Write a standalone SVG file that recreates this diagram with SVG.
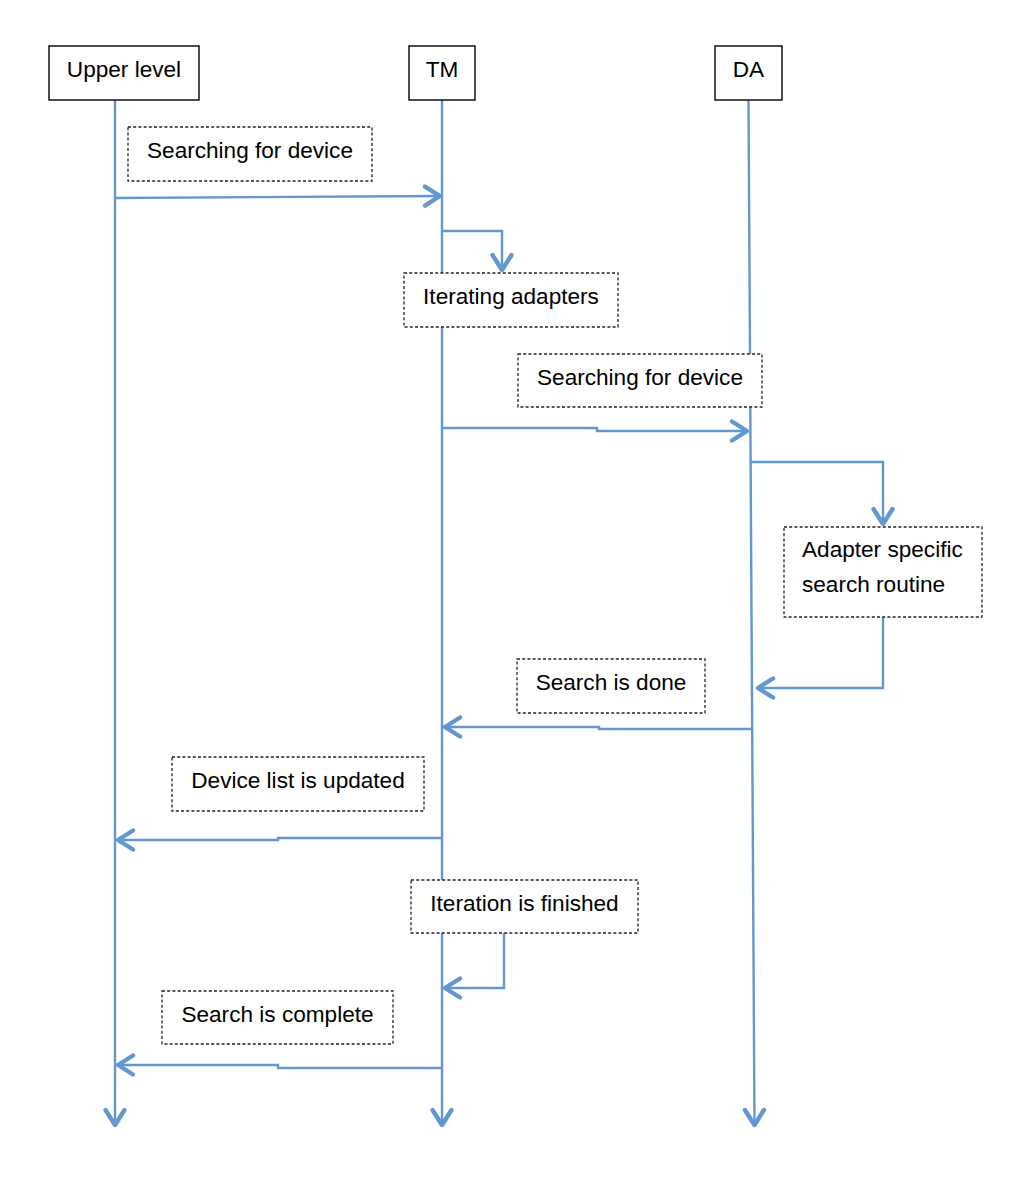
<svg xmlns="http://www.w3.org/2000/svg" width="1032" height="1192" viewBox="0 0 1032 1192">
  <style>
    .bg { fill: #ffffff; }
    .wire { fill: none; stroke: #6397cf; stroke-width: 2.4; stroke-linejoin: miter; }
    .head { fill: #ffffff; stroke: #000000; stroke-width: 1.4; }
    .note { fill: #ffffff; stroke: #222222; stroke-width: 1.3; stroke-dasharray: 3 2.2; }
    .label { font-family: "Liberation Sans", Arial, Helvetica, sans-serif; font-size: 22.6px; fill: #000000; }
    .mid { text-anchor: middle; }
  </style>
  <defs>
    <marker id="arrow" markerUnits="userSpaceOnUse" markerWidth="40" markerHeight="40" viewBox="-20 -20 40 40" refX="0" refY="0" orient="auto" overflow="visible">
      <path d="M-16,-9.5 L-1,0 L-16,9.5" fill="none" stroke="#6397cf" stroke-width="4.4" stroke-linecap="round" stroke-linejoin="round"/>
    </marker>
  </defs>

  <rect class="bg" x="0" y="0" width="1032" height="1192"/>

  <!-- lifelines and messages -->
  <g id="connectors">
    <path class="wire" d="M115,100 V1126" marker-end="url(#arrow)"/>
    <path class="wire" d="M442,100 V1126" marker-end="url(#arrow)"/>
    <path class="wire" d="M748.5,100 L754.5,1126" marker-end="url(#arrow)"/>

    <path class="wire" d="M115,198 L441,196" marker-end="url(#arrow)"/>
    <path class="wire" d="M442,231 H502 V271" marker-end="url(#arrow)"/>
    <path class="wire" d="M442,428 H597 V431 H748" marker-end="url(#arrow)"/>
    <path class="wire" d="M751,462 H883 V525" marker-end="url(#arrow)"/>
    <path class="wire" d="M883,617 V688 H757" marker-end="url(#arrow)"/>
    <path class="wire" d="M752,729 H599 V727 H444" marker-end="url(#arrow)"/>
    <path class="wire" d="M442,838 H278 V840 H117" marker-end="url(#arrow)"/>
    <path class="wire" d="M504,933 V988 H444" marker-end="url(#arrow)"/>
    <path class="wire" d="M442,1068 H278 V1065 H117" marker-end="url(#arrow)"/>
  </g>

  <!-- participants -->
  <g id="upper-level">
    <rect class="head" x="49" y="46" width="150" height="54"/>
    <text class="label mid" x="124" y="77">Upper level</text>
  </g>
  <g id="tm">
    <rect class="head" x="409" y="46" width="66" height="54"/>
    <text class="label mid" x="442" y="77">TM</text>
  </g>
  <g id="da">
    <rect class="head" x="715" y="46" width="67" height="54"/>
    <text class="label mid" x="748.5" y="77">DA</text>
  </g>

  <!-- message notes -->
  <g id="note-search-1">
    <rect class="note" x="128" y="127" width="244" height="54"/>
    <text class="label mid" x="250" y="158">Searching for device</text>
  </g>
  <g id="note-iterating">
    <rect class="note" x="404" y="273" width="214" height="54"/>
    <text class="label mid" x="511" y="304">Iterating adapters</text>
  </g>
  <g id="note-search-2">
    <rect class="note" x="518" y="354" width="244" height="53"/>
    <text class="label mid" x="640" y="385">Searching for device</text>
  </g>
  <g id="note-routine">
    <rect class="note" x="784" y="527" width="198" height="90"/>
    <text class="label" x="802" y="557">Adapter specific</text>
    <text class="label" x="802" y="592">search routine</text>
  </g>
  <g id="note-done">
    <rect class="note" x="517" y="659" width="188" height="54"/>
    <text class="label mid" x="611" y="690">Search is done</text>
  </g>
  <g id="note-updated">
    <rect class="note" x="172" y="757" width="252" height="54"/>
    <text class="label mid" x="298" y="788">Device list is updated</text>
  </g>
  <g id="note-finished">
    <rect class="note" x="411" y="880" width="227" height="53"/>
    <text class="label mid" x="524.5" y="911">Iteration is finished</text>
  </g>
  <g id="note-complete">
    <rect class="note" x="162" y="991" width="231" height="53"/>
    <text class="label mid" x="277.5" y="1022">Search is complete</text>
  </g>
</svg>
